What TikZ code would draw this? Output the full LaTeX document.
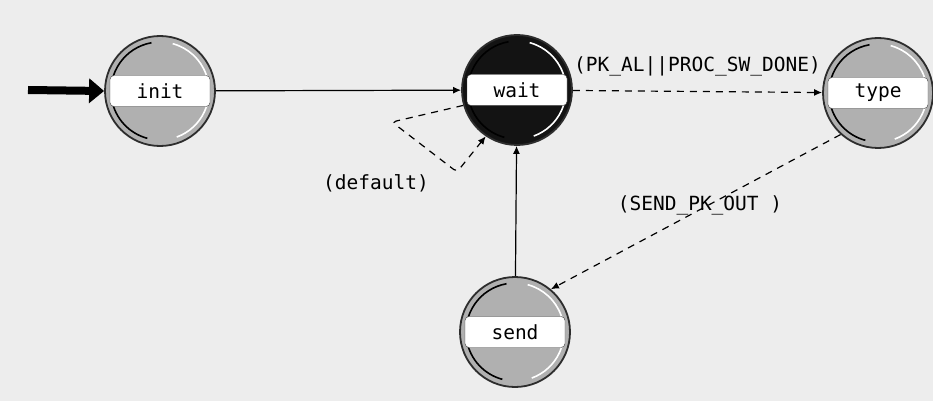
\documentclass[tikz,border=0pt]{standalone}
\usepackage{fontspec}
\setmonofont{DejaVu Sans Mono}
\usetikzlibrary{arrows.meta}
\begin{document}
\begin{tikzpicture}[x=1pt,y=1pt,
  font=\ttfamily\fontsize{19.5}{21}\selectfont,
  state/.style={circle, draw=gray!35!black, line width=1.8pt, fill=gray!62, minimum size=110pt, inner sep=0pt,
    path picture={
      \draw[white, line width=1.6pt] (path picture bounding box.center) ++(-70:49) arc[start angle=-70, end angle=75, radius=49];
      \draw[black, line width=1.6pt] (path picture bounding box.center) ++(100:49) arc[start angle=100, end angle=255, radius=49];
    }},
  darkstate/.style={state, fill=gray!15!black},
  band/.style={draw=gray!50!black, fill=white, rounded corners=4pt, minimum width=100pt, minimum height=31pt, inner sep=0pt},
  lbl/.style={inner sep=1pt, text=black},
  arr/.style={-{Latex[length=8pt,width=7pt]}, line width=1.2pt, draw=black},
  darr/.style={arr, dash pattern=on 7pt off 6pt}
]
\useasboundingbox (0,0) rectangle (933,-401);
\fill[gray!14] (0,0) rectangle (933,-401);

\node[state] (init) at (160,-91) {};
\node[band] (initL) at (init.center) {init};
\node[darkstate] (wait) at (517,-90) {};
\node[band] (waitL) at (wait.center) {wait};
\node[state] (type) at (878,-93) {};
\node[band] (typeL) at (type.center) {type};
\node[state] (send) at (515,-332) {};
\node[band] (sendL) at (send.center) {send};

\coordinate (start) at (28,-90);
\draw[line width=8pt, -{Triangle[length=15pt,width=24pt]}] (start) -- (init.west);

\draw[arr] (init) -- (wait);
\draw[darr] (wait) -- (type) node[lbl, midway, above=14pt] {(PK\_AL||PROC\_SW\_DONE)};
\draw[darr] (type.228) -- (send.50);
\node[lbl] (l2) at (700,-205) {(SEND\_PK\_OUT )};
\draw[arr] (send) -- (wait);

\coordinate (la) at (392,-122);
\coordinate (lb) at (457,-172);
\draw[darr, rounded corners=4pt] (wait.196) -- (la) -- (lb) -- (wait.236);
\node[lbl] (l3) at (376,-183) {(default)};
\end{tikzpicture}
\end{document}
